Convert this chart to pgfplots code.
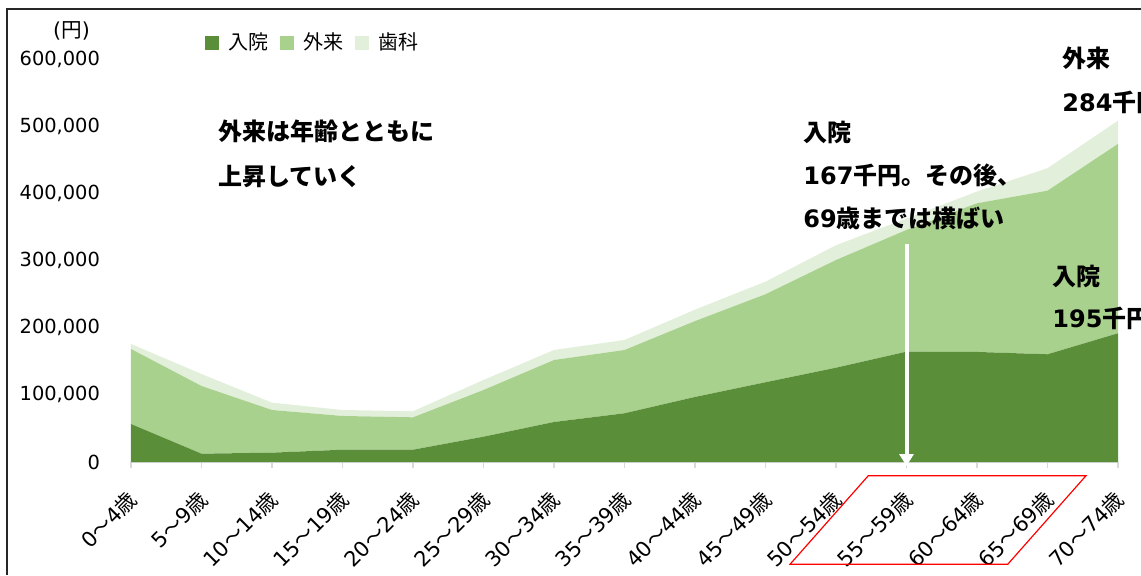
\documentclass[border=0pt]{standalone}
\usepackage{pgfplots}
\pgfplotsset{compat=1.18}
\usepackage{pgfplotstable}
\usepackage{fontspec}
\setmainfont{DejaVu Sans}
\newfontfamily\cjk{Noto Sans CJK JP}
\usetikzlibrary{arrows.meta}

\definecolor{cin}{HTML}{5B8E39}
\definecolor{cout}{HTML}{A9D18E}
\definecolor{cden}{HTML}{E2EFDA}

% age band label: 0〜4歳
\newcommand{\ag}[2]{#1{\cjk 〜}#2{\cjk 歳}}

\pgfplotstableread{
x  in     out    dent
0  56600  111800 7500
1  12400  100900 17800
2  13900  63600  10900
3  18300  50300  8900
4  18300  48300  9000
5  37700  69600  14900
6  59600  92400  14900
7  72600  94300  14900
8  96900  113100 17000
9  118800 131200 18700
10 140500 160500 22000
11 164400 181400 17000
12 164000 221500 17500
13 160500 243800 33400
14 191800 282200 34600
}\data

\begin{document}
\begin{tikzpicture}
\useasboundingbox (0,0) rectangle (570.5pt,287.5pt);
\begin{axis}[
    at={(65.5pt,56.5pt)}, anchor=origin,
    scale only axis,
    width=493.5pt, height=201.35pt,
    xmin=0, xmax=14,
    ymin=0, ymax=600000,
    stack plots=y,
    axis x line*=bottom, axis y line*=left,
    x axis line style={draw=black!15, line width=0.8pt, -},
    y axis line style={draw=none},
    xtick={0,...,14},
    xticklabels={\ag{0}{4},\ag{5}{9},\ag{10}{14},\ag{15}{19},\ag{20}{24},\ag{25}{29},\ag{30}{34},\ag{35}{39},\ag{40}{44},\ag{45}{49},\ag{50}{54},\ag{55}{59},\ag{60}{64},\ag{65}{69},\ag{70}{74}},
    x tick style={draw=black!15, line width=0.8pt},
    tick align=outside,
    major tick length=3pt,
    x tick label style={rotate=45, anchor=east, font=\fontsize{10.5}{12}\selectfont, yshift=-10.5pt, xshift=-5.5pt},
    ytick={0,100000,200000,300000,400000,500000,600000},
    y tick style={draw=none},
    scaled y ticks=false,
    /pgf/number format/assume math mode=true,
    y tick label style={/pgf/number format/fixed, /pgf/number format/1000 sep={,}, font=\fontsize{9.7}{11}\selectfont, xshift=-9pt},
    legend columns=3,
    legend style={at={(0.075,1.0417)}, anchor=west, draw=none, fill=none, inner sep=0pt,
        font=\cjk\fontsize{10}{12}\selectfont,
        /tikz/every even column/.append style={column sep=4pt}},
    legend image code/.code={\fill[#1] (0pt,-3.5pt) rectangle (7pt,3.5pt); \path (9.5pt,0pt);},
    clip=false,
]
\addplot[fill=cin, draw=none] table[x=x, y=in] {\data} \closedcycle;
\addlegendentry{入院}
\addplot[fill=cout, draw=none] table[x=x, y=out] {\data} \closedcycle;
\addlegendentry{外来}
\addplot[fill=cden, draw=none] table[x=x, y=dent] {\data} \closedcycle;
\addlegendentry{歯科}
\end{axis}

\begin{scope}[x=0.5pt, y=-0.5pt, yshift=287.5pt]
\draw[black!85, line width=1pt] (7,575) -- (7,9) -- (1141,9);
\node[font=\fontsize{10.3}{12}\selectfont, inner sep=0pt] at (71.5,30.5) {(\cjk 円\rm)};
\begin{scope}[every node/.style={anchor=west, inner sep=0pt, font=\bfseries\fontsize{12}{14}\selectfont}]
\node at (218,131) {\cjk 外来は年齢とともに};
\node at (218,177) {\cjk 上昇していく};
\node at (803,132) {\cjk 入院};
\node at (803,175) {167{\cjk 千円。その後、}};
\node at (803,218.5) {69{\cjk 歳までは横ばい}};
\node at (1062,58) {\cjk 外来};
\node at (1062,102.5) {284{\cjk 千円}};
\node at (1052,276) {\cjk 入院};
\node at (1052,318) {195{\cjk 千円}};
\end{scope}
\draw[white, line width=2pt, -{Triangle[width=7pt,length=6pt]}] (906.5,244) -- (906.5,466);
\draw[red, line width=0.6pt] (790,564.3) -- (868.3,475.7) -- (1086,475.7) -- (1007.7,564.3) -- cycle;
\end{scope}
\end{tikzpicture}
\end{document}
